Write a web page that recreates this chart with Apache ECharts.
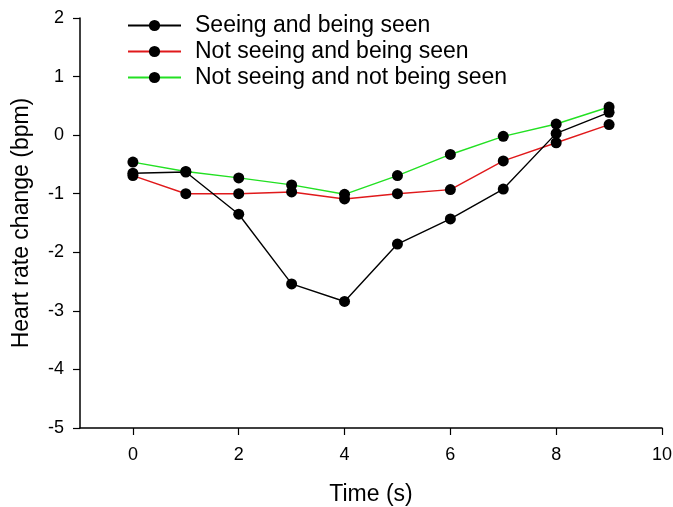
<!DOCTYPE html>
<html>
<head>
<meta charset="utf-8">
<script src="https://cdn.jsdelivr.net/npm/echarts@6/dist/echarts.min.js"></script>
<style>html,body{margin:0;padding:0;background:#fff}#c{width:673px;height:507px}</style>
</head>
<body>
<div id="c"></div>
<script>
const times = [0, 1, 2, 3, 4, 5, 6, 7, 8, 9];
const seriesNames = ['Seeing and being seen', 'Not seeing and being seen', 'Not seeing and not being seen'];
const seeingSeen = [-0.65, -0.63, -1.35, -2.54, -2.84, -1.86, -1.43, -0.92, 0.03, 0.39];
const notSeeingSeen = [-0.69, -1.00, -1.00, -0.97, -1.09, -1.00, -0.93, -0.44, -0.13, 0.18];
const notSeeingNotSeen = [-0.46, -0.62, -0.73, -0.85, -1.01, -0.69, -0.33, -0.02, 0.19, 0.48];
const xTicks = [0, 2, 4, 6, 8, 10];
const yTicks = [-5, -4, -3, -2, -1, 0, 1, 2];

const FONT = 'Liberation Sans';
const lineColors = ['#000000', '#e0191b', '#22e022'];
const values = [seeingSeen, notSeeingSeen, notSeeingNotSeen];

const chart = echarts.init(document.getElementById('c'), null, {renderer: 'canvas'});
chart.setOption({
  animation: false,
  backgroundColor: '#ffffff',
  textStyle: {fontFamily: FONT, color: '#000'},
  grid: {left: 80, right: 11, top: 18, bottom: 79, containLabel: false, outerBoundsMode: 'none'},
  legend: {
    orient: 'vertical',
    left: 122,
    top: 9,
    itemWidth: 53,
    itemHeight: 14,
    itemGap: 3,
    textStyle: {fontFamily: FONT, fontSize: 23, lineHeight: 23, color: '#000', padding: [0, 0, 0, 9]},
    data: seriesNames
  },
  xAxis: {
    type: 'value',
    min: -1,
    max: 10,
    name: 'Time (s)',
    nameLocation: 'middle',
    nameGap: 55,
    nameTextStyle: {fontFamily: FONT, fontSize: 23, color: '#000'},
    splitLine: {show: false},
    axisLine: {onZero: false, lineStyle: {color: '#000', width: 1.5}},
    axisTick: {show: true, length: 7, customValues: xTicks, lineStyle: {color: '#000', width: 1.2}},
    axisLabel: {customValues: xTicks, fontFamily: FONT, fontSize: 18, color: '#000', margin: 18}
  },
  yAxis: {
    type: 'value',
    min: -5,
    max: 2,
    interval: 1,
    name: 'Heart rate change (bpm)',
    nameLocation: 'middle',
    nameGap: 47,
    nameTextStyle: {fontFamily: FONT, fontSize: 23, color: '#000'},
    splitLine: {show: false},
    axisLine: {show: true, onZero: false, lineStyle: {color: '#000', width: 1.5}},
    axisTick: {show: true, length: 7, customValues: yTicks, lineStyle: {color: '#000', width: 1.2}},
    axisLabel: {customValues: yTicks, fontFamily: FONT, fontSize: 18, color: '#000', margin: 16}
  },
  series: seriesNames.map((name, i) => ({
    name: name,
    type: 'line',
    data: times.map((t, j) => [t, values[i][j]]),
    symbol: 'circle',
    symbolSize: 11,
    showSymbol: true,
    itemStyle: {color: '#000'},
    lineStyle: {color: lineColors[i], width: 1.4},
    z: 3 - i
  }))
});
</script>
</body>
</html>
